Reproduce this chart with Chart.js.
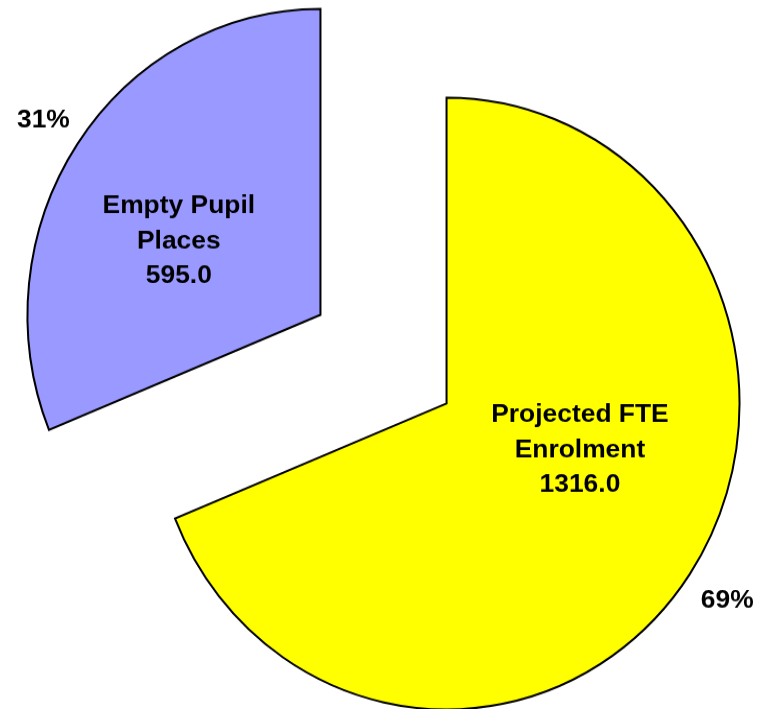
<!DOCTYPE html>
<html lang="en">
<head>
    <meta charset="UTF-8">
    <title>Pupil Places</title>
    <script src="https://cdn.jsdelivr.net/npm/chart.js"></script>
    <style>
        body {
            margin: 0;
            background: #fff;
            overflow: hidden;
        }
        /* the original picture is a little taller than wide, so the canvas is stretched */
        #place-chart {
            display: block;
            width: 762px;
            height: 709px;
        }
    </style>
</head>
<body>
    <canvas id="place-chart" width="762" height="679" style="width:762px;height:709px"></canvas>

    <script>
        // Data
        const categories = [['Projected FTE', 'Enrolment'], ['Empty Pupil', 'Places']];
        const places = [1316.0, 595.0];
        const sliceColors = ['#FFFF00', '#9999FF'];

        // how far each slice is pulled out from the middle
        const EXPLODE = 76;
        // where the name label sits inside its slice: part of radius, turn in degrees
        const innerLabelSpots = [{ r: 0.48, turn: -15.5 }, { r: 0.54, turn: -7.5 }];
        // where the percentage sits outside: part of radius
        const outerLabelSpots = [1.155, 1.14];
        const FONT = 'bold 24px "Liberation Sans", Arial, sans-serif';

        function slicePoint(arc, angle, dist) {
            const mid = (arc.startAngle + arc.endAngle) / 2;
            const cx = arc.x + Math.cos(mid) * EXPLODE;
            const cy = arc.y + Math.sin(mid) * EXPLODE;
            return { x: cx + Math.cos(angle) * dist, y: cy + Math.sin(angle) * dist };
        }

        function drawText(ctx, text, x, y) {
            ctx.save();
            ctx.translate(x, y);
            ctx.scale(1.1, 1);
            ctx.fillText(text, 0, 0);
            ctx.restore();
        }

        // draw every slice moved out along its middle angle
        const explodePlugin = {
            id: 'explode',
            beforeDatasetDraw(chart, args) {
                const ctx = chart.ctx;
                args.meta.data.forEach(arc => {
                    const mid = (arc.startAngle + arc.endAngle) / 2;
                    ctx.save();
                    ctx.translate(Math.cos(mid) * EXPLODE, Math.sin(mid) * EXPLODE);
                    arc.draw(ctx);
                    ctx.restore();
                });
                return false;
            }
        };

        // names, values and percentages
        const labelPlugin = {
            id: 'sliceLabels',
            afterDatasetsDraw(chart) {
                const ctx = chart.ctx;
                const arcs = chart.getDatasetMeta(0).data;
                const total = places.reduce((a, b) => a + b, 0);
                ctx.save();
                ctx.font = FONT;
                ctx.fillStyle = '#000';
                ctx.textAlign = 'center';
                ctx.textBaseline = 'middle';
                arcs.forEach((arc, i) => {
                    const mid = (arc.startAngle + arc.endAngle) / 2;
                    const R = arc.outerRadius;
                    const spot = innerLabelSpots[i];
                    const p = slicePoint(arc, mid + spot.turn * Math.PI / 180, spot.r * R);
                    const lines = categories[i].concat([places[i].toFixed(1)]);
                    const lineH = 33.5;
                    lines.forEach((line, k) => {
                        drawText(ctx, line, p.x, p.y + (k - (lines.length - 1) / 2) * lineH);
                    });
                    const q = slicePoint(arc, mid, outerLabelSpots[i] * R);
                    drawText(ctx, Math.round(places[i] / total * 100) + '%', q.x, q.y);
                });
                ctx.restore();
            }
        };

        const ctxPlaces = document.getElementById('place-chart').getContext('2d');
        const placeChart = new Chart(ctxPlaces, {
            type: 'pie',
            data: {
                labels: categories,
                datasets: [{
                    data: places,
                    backgroundColor: sliceColors,
                    borderColor: '#000',
                    borderWidth: 2,
                    borderJoinStyle: 'miter'
                }]
            },
            options: {
                responsive: false,
                animation: false,
                events: [],
                radius: 293,
                layout: {
                    padding: { left: 5, top: 9, right: 0, bottom: 0 }
                },
                plugins: {
                    legend: { display: false },
                    tooltip: { enabled: false }
                }
            },
            plugins: [explodePlugin, labelPlugin]
        });
    </script>
</body>
</html>
